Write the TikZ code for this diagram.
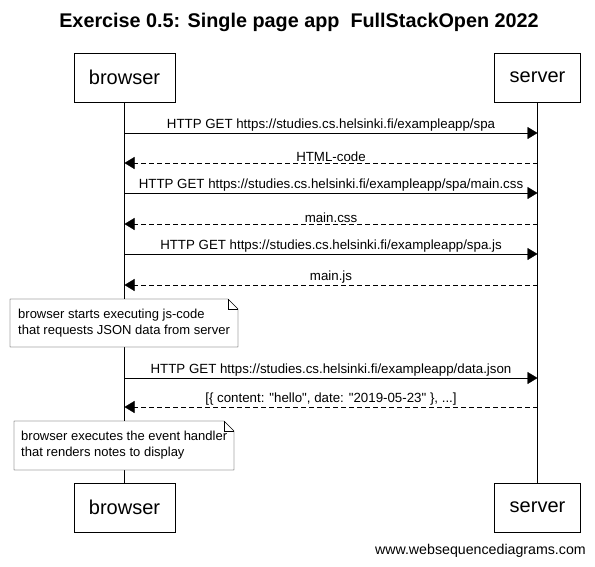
\documentclass[tikz,border=0pt]{standalone}
\usepackage{fontspec}
\setmainfont{Liberation Sans}
\usetikzlibrary{arrows.meta}
\tikzset{
  actor/.style={draw, fill=white, minimum width=101pt, minimum height=49pt, font=\fontsize{20}{24}\selectfont},
  req/.style={-{Triangle[length=10pt,width=12pt]}},
  resp/.style={dashed, dash pattern=on 5pt off 3pt, -{Triangle[length=10pt,width=12pt]}},
  msg/.style={above, inner sep=1.5pt, font=\fontsize{13.3}{15}\selectfont},
  notetext/.style={align=left, inner sep=0pt, font=\fontsize{13}{16}\selectfont, anchor=north west}
}
\begin{document}
\begin{tikzpicture}[x=1pt,y=1pt]
      \useasboundingbox (0,0) rectangle (595,-566);
      \node[font=\fontsize{19.8}{24}\selectfont\bfseries] (title) at (299,-22) {Exercise 0.5: Single page app\ \ FullStackOpen 2022};
      \node[actor] (browser) at (124.5,-77.5) {browser};
      \node[actor, minimum width=86pt] (server) at (537.5,-77.5) {server};
      \node[actor] (browserEnd) at (124.5,-507.5) {browser};
      \node[actor, minimum width=86pt] (serverEnd) at (537.5,-507.5) {server};
      % lifelines
      \draw (browser) -- (browserEnd);
      \draw (server) -- (serverEnd);
      \foreach \i/\y in {1/133,2/163,3/193,4/224,5/254,6/285,7/378,8/407} {
        \coordinate (b\i) at (124.5,-\y);
        \coordinate (s\i) at (537.5,-\y);
      }
      % messages
      \draw[req] (b1) -- node[msg] {HTTP GET https://studies.cs.helsinki.fi/exampleapp/spa} (s1);
      \draw[resp] (s2) -- node[msg] {HTML-code} (b2);
      \draw[req] (b3) -- node[msg] {HTTP GET https://studies.cs.helsinki.fi/exampleapp/spa/main.css} (s3);
      \draw[resp] (s4) -- node[msg] {main.css} (b4);
      \draw[req] (b5) -- node[msg] {HTTP GET https://studies.cs.helsinki.fi/exampleapp/spa.js} (s5);
      \draw[resp] (s6) -- node[msg] {main.js} (b6);
      \draw[req] (b7) -- node[msg] {HTTP GET https://studies.cs.helsinki.fi/exampleapp/data.json} (s7);
      \draw[resp] (s8) -- node[msg] {[\{ content: \textquotedbl hello\textquotedbl, date: \textquotedbl 2019-05-23\textquotedbl\ \}, ...]} (b8);
      % notes
      \filldraw[fill=white] (10,-299) -- (228,-299) -- (238,-309) -- (238,-347) -- (10,-347) -- cycle;
      \draw (228,-299) -- (228,-309) -- (238,-309);
      \node[notetext] (note1) at (18,-309) {browser starts executing js-code\\that requests JSON data from server};
      \filldraw[fill=white] (14,-421) -- (224,-421) -- (234,-431) -- (234,-470) -- (14,-470) -- cycle;
      \draw (224,-421) -- (224,-431) -- (234,-431);
      \node[notetext] (note2) at (21,-431) {browser executes the event handler\\that renders notes to display};
      \node[anchor=east, inner sep=0pt, font=\fontsize{14.2}{16}\selectfont] (footer) at (586,-551) {www.websequencediagrams.com};
    \end{tikzpicture}
\end{document}
